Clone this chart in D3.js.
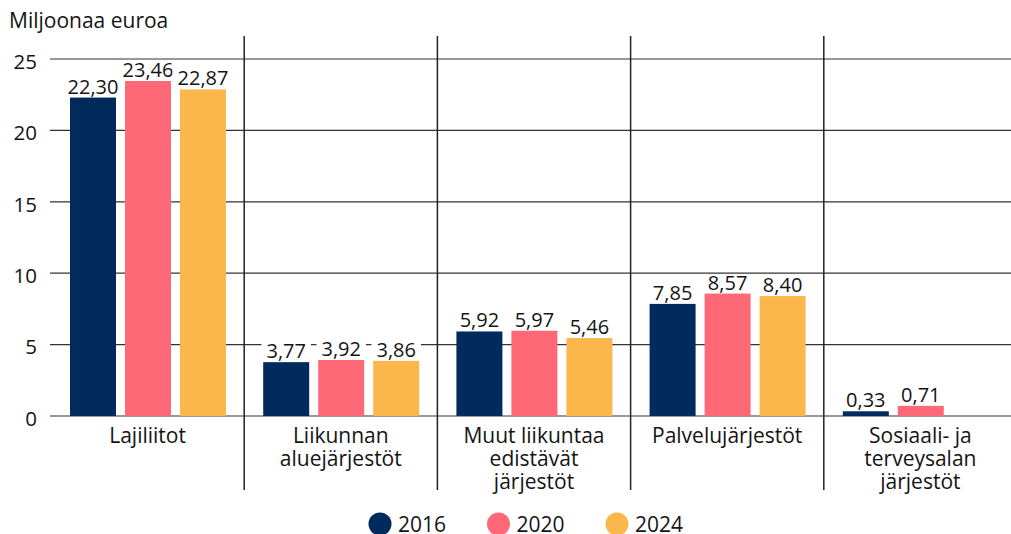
<!DOCTYPE html>
<html lang="fi">
	<head>
		<meta charset="utf-8">
		<title>Miljoonaa euroa</title>
		<style>
			body { margin: 0; background: #fff; }
			svg text { font-family: "Open Sans", sans-serif; fill: #141414; }
		</style>
	</head>
	<body>
		<svg id="chart"></svg>
		<script src="https://cdn.jsdelivr.net/npm/d3@7"></script>
		<script>
			// data
			var categories = [
				["Lajiliitot"],
				["Liikunnan", "aluejärjestöt"],
				["Muut liikuntaa", "edistävät", "järjestöt"],
				["Palvelujärjestöt"],
				["Sosiaali- ja", "terveysalan", "järjestöt"]
			];
			var years = ["2016", "2020", "2024"];
			var values2016 = [22.30, 3.77, 5.92, 7.85, 0.33];
			var values2020 = [23.46, 3.92, 5.97, 8.57, 0.71];
			var values2024 = [22.87, 3.86, 5.46, 8.40, null];
			var yTicks = [0, 5, 10, 15, 20, 25];
			var colors = ["#012b5d", "#ff6877", "#fbb64c"];

			var width = 1011, height = 534;
			var svg = d3.select("#chart").attr("width", width).attr("height", height);

			var series = [values2016, values2020, values2024];
			var rows = categories.map(function(c, i) {
				return { label: c, i: i, vals: series.map(function(s) { return s[i]; }) };
			});

			var x0 = d3.scaleBand().domain(d3.range(categories.length)).range([51, 1017]);
			var x1 = d3.scaleBand().domain(years).range([19, 175]).paddingInner(9 / 55);
			var y = d3.scaleLinear().domain([0, 25]).range([416, 59]);

			// horizontal grid
			svg.append("g").selectAll("line")
				.data(yTicks)
				.enter().append("line")
				.attr("x1", 50).attr("x2", width)
				.attr("y1", function(d) { return y(d); })
				.attr("y2", function(d) { return y(d); })
				.attr("stroke", "#333").attr("stroke-width", 1.2);

			// y tick labels
			svg.append("g").selectAll("text")
				.data(yTicks)
				.enter().append("text")
				.attr("x", 37)
				.attr("y", function(d) { return y(d) + 9.8; })
				.attr("text-anchor", "end")
				.style("font-size", "20.5px")
				.text(function(d) { return d; });

			// category separators
			svg.append("g").selectAll("line")
				.data(d3.range(1, categories.length))
				.enter().append("line")
				.attr("x1", function(d) { return x0(d); })
				.attr("x2", function(d) { return x0(d); })
				.attr("y1", 36).attr("y2", 490)
				.attr("stroke", "#222").attr("stroke-width", 1.5);

			var group = svg.append("g").selectAll("g")
				.data(rows)
				.enter().append("g")
				.attr("transform", function(d) { return "translate(" + x0(d.i) + ",0)"; });

			var cells = function(d) {
				return d.vals.map(function(v, k) { return { v: v, k: k }; })
					.filter(function(e) { return e.v != null; });
			};

			// value labels, with a white box that breaks the grid line
			var vals = group.selectAll("g.val")
				.data(cells)
				.enter().append("g")
				.attr("class", "val");
			var bg = vals.append("rect").attr("fill", "#fff");
			var vt = vals.append("text")
				.attr("x", function(e) { return x1(years[e.k]) + x1.bandwidth() / 2; })
				.attr("y", function(e) { return y(e.v) - 4; })
				.attr("text-anchor", "middle")
				.style("font-size", "20px")
				.text(function(e) { return d3.format(".2f")(e.v).replace(".", ","); });
			vt.each(function(e, i) {
				var b = this.getBBox();
				var base = y(e.v) - 4;
				d3.select(this.parentNode).select("rect")
					.attr("x", b.x - 5).attr("width", b.width + 10)
					.attr("y", base - 15).attr("height", 15);
			});

			// bars
			group.selectAll("rect.bar")
				.data(cells)
				.enter().append("rect")
				.attr("class", "bar")
				.attr("x", function(e) { return x1(years[e.k]); })
				.attr("width", x1.bandwidth())
				.attr("y", function(e) { return y(e.v); })
				.attr("height", function(e) { return y(0) - y(e.v); })
				.attr("fill", function(e) { return colors[e.k]; });

			// category labels
			group.append("text")
				.attr("text-anchor", "middle")
				.style("font-size", "21px")
				.selectAll("tspan")
				.data(function(d) { return d.label; })
				.enter().append("tspan")
				.attr("x", x0.bandwidth() / 2)
				.attr("y", function(t, j) { return 443 + j * 23; })
				.text(function(t) { return t; });

			// axis title
			svg.append("text")
				.attr("x", 9).attr("y", 28)
				.style("font-size", "21px")
				.text("Miljoonaa euroa");

			// legend
			var legend = svg.append("g").selectAll("g")
				.data(years)
				.enter().append("g")
				.attr("transform", function(d, i) { return "translate(" + (380 + i * 118.5) + ",524)"; });
			legend.append("circle").attr("r", 11.5).attr("fill", function(d, i) { return colors[i]; });
			legend.append("text")
				.attr("x", 18).attr("y", 7.5)
				.style("font-size", "21px")
				.text(function(d) { return d; });
		</script>
	</body>
</html>
